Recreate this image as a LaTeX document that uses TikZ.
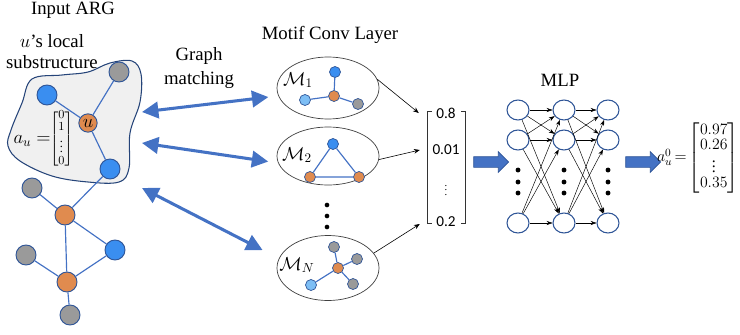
\RequirePackage{fix-cm}
\documentclass[tikz,border=0pt]{standalone}
\usepackage{amsmath}
\usepackage{fontspec}
\setmainfont{Liberation Serif}
\newfontfamily\numfont{Carlito}
\usetikzlibrary{arrows.meta,shapes.arrows,shapes.geometric,calc}

\definecolor{nodeblue}{HTML}{3A8EF0}
\definecolor{lightblue}{HTML}{7DBEF5}
\definecolor{nodeorange}{HTML}{E08B4F}
\definecolor{nodegray}{HTML}{9A9A9A}
\definecolor{edgeblue}{HTML}{4472C4}
\definecolor{rimblue}{HTML}{2F5597}
\definecolor{blobgray}{HTML}{F0F0F0}

\begin{document}
\begin{tikzpicture}[
	x = 0.03cm, y = -0.03cm,  % one unit = one pixel of the sketch
	font = \fontsize{16}{18}\selectfont,
	vertex/.style = {circle, draw = rimblue, line width = 0.8pt, minimum size = 0.6cm, inner sep = 0},
	bnode/.style = {vertex, fill = nodeblue},
	lbnode/.style = {vertex, fill = lightblue},
	onode/.style = {vertex, fill = nodeorange},
	gnode/.style = {vertex, fill = nodegray},
	small/.style = {minimum size = 0.33cm, line width = 0.6pt},
	link/.style = {edgeblue, line width = 1pt},
	motif/.style = {ellipse, draw = black!75, line width = 0.6pt, minimum width = 3.06cm, inner sep = 0},
	match/.style = {{Triangle[length=14pt,width=14pt]}-{Triangle[length=14pt,width=14pt]}, edgeblue, line width = 2.6pt},
	feed/.style = {-{Stealth[length=5pt,width=4pt]}, black, line width = 0.5pt},
	neuron/.style = {ellipse, draw = rimblue, line width = 0.9pt, fill = white, minimum width = 0.66cm, minimum height = 0.6cm, inner sep = 0},
	wire/.style = {-{Stealth[length=5pt,width=3.5pt]}, black, line width = 0.4pt},
	bigarrow/.style = {single arrow, draw = rimblue, fill = edgeblue, line width = 0.6pt, minimum height = 1.05cm, text height = 0.3cm, text depth = 0pt, single arrow head extend = 0.15cm, single arrow head indent = 0, inner sep = 0},
	bracket/.style = {black!80, line width = 0.8pt}
	]
	
	\useasboundingbox (0,0) rectangle (740,334);
	
	% input graph
	\node (title1) at (73,10) {Input ARG};
	\node[align = center] (sublabel) at (52,52) {$u$'s local\\substructure};
	
	\draw[rimblue!80!black, line width = 0.9pt, fill = blobgray] plot[smooth cycle, tension = 0.6] coordinates
		{(32,79) (62,75) (88,72) (110,63) (132,61) (141,74) (140,102) (130,133) (129,168) (119,182) (88,182) (52,176) (20,161) (8,146) (11,130) (22,103)};
	
	\node[bnode] (a1) at (47,95) {};
	\node[gnode] (a2) at (119,72) {};
	\node[onode, minimum size = 0.55cm] (u) at (88,123) {$u$};
	\node[bnode] (a3) at (110,169) {};
	\node[gnode] (a4) at (32,188) {};
	\node[onode] (a5) at (65,215) {};
	\node[bnode] (a6) at (115,250) {};
	\node[gnode] (a7) at (26,255) {};
	\node[onode] (a8) at (67,282) {};
	\node[gnode] (a9) at (70,315) {};
	
	\foreach \s/\t in {a1/u, a2/u, u/a3, a3/a5, a4/a5, a5/a6, a5/a8, a6/a8, a7/a8, a8/a9}
		\draw[link] (\s) -- (\t);
	
	\node[anchor = east, inner sep = 0] (alabel) at (51,141) {$a_u=$};
	\node[inner sep = 0, font = \fontsize{10.5}{10.5}\selectfont] (amat) at (61.5,139)
		{$\arraycolsep=1pt\begin{bmatrix}0\\1\\\vdots\\0\end{bmatrix}$};
	
	\node[align = center] (gm) at (199,68) {Graph\\[2pt]matching};
	
	% motif conv layer
	\node (title2) at (330,35) {Motif Conv Layer};
	\node[motif, minimum height = 1.86cm] (m1) at (328,88) {};
	\node[motif, minimum height = 1.74cm] (m2) at (328,156) {};
	\node[motif, minimum height = 1.95cm] (mN) at (328,268) {};
	
	\node (l1) at (298,80) {$\mathcal{M}_1$};
	\node (l2) at (297,155) {$\mathcal{M}_2$};
	\node (lN) at (297,265) {$\mathcal{M}_N$};
	
	\node[onode, small] (p0) at (334,96) {};
	\node[bnode, small] (p1) at (335,72) {};
	\node[lbnode, small] (p2) at (305,100) {};
	\node[gnode, small] (p3) at (358,104) {};
	\foreach \t in {p1, p2, p3}
		\draw[link] (p0) -- (\t);
	
	\node[bnode, small] (q1) at (333,144) {};
	\node[onode, small] (q2) at (310,177) {};
	\node[onode, small] (q3) at (359,177) {};
	\draw[link] (q1) -- (q2) -- (q3) -- (q1);
	
	\node[onode, small] (r0) at (338,268) {};
	\node[gnode, small] (r1) at (334,247) {};
	\node[gnode, small] (r2) at (357,259) {};
	\node[gnode, small] (r3) at (353,284) {};
	\node[lbnode, small] (r4) at (311,285) {};
	\foreach \t in {r1, r2, r3, r4}
		\draw[link] (r0) -- (\t);
	
	\foreach \y in {205,216,227}
		\fill (327,\y) circle (2pt);
	
	\coordinate (g1) at (142,112);
	\coordinate (g2) at (142,143);
	\coordinate (g3) at (142,188);
	\draw[match, shorten > = 0.3cm] (g1) -- (m1.189);
	\draw[match, shorten > = 0.3cm] (g2) -- (m2.188);
	\draw[match, shorten > = 0.55cm] (g3) -- (mN.169);
	
	% pooled vector
	\node[minimum width = 1.11cm, minimum height = 3.33cm, inner sep = 0] (vec) at (446.5,167.5) {};
	\node[font = \numfont\fontsize{13}{13}\selectfont] (v1) at (446,113) {0.8};
	\node[font = \numfont\fontsize{13}{13}\selectfont] (v2) at (446,150) {0.01};
	\node[font = \fontsize{9}{9}\selectfont] (v3) at (446,187) {$\vdots$};
	\node[font = \numfont\fontsize{13}{13}\selectfont] (v4) at (446,222) {0.2};
	\draw[bracket] ($(vec.north west)+(4,0)$) -- (vec.north west) -- (vec.south west) -- ++(4,0);
	\draw[bracket] ($(vec.north east)+(-4,0)$) -- (vec.north east) -- (vec.south east) -- ++(-4,0);
	
	\draw[feed] (m1.10) -- ($(vec.west |- v1)+(-9,0)$);
	\draw[feed] (m2.-4) -- ($(vec.west |- v2)+(-8,0)$);
	\draw[feed] (mN.18) -- ($(vec.west |- v4)+(-8,2)$);
	
	\node[bigarrow] (ba1) at (488.5,162) {};
	
	% MLP
	\node (title3) at (560,80) {MLP};
	\foreach \c/\x in {1/518, 2/564, 3/608}
		\foreach \r/\y in {1/110, 2/140, 3/223}
			\node[neuron] (n\c\r) at (\x,\y) {};
	\foreach \a/\b in {1/2, 2/3}
		\foreach \i in {1,2,3}
			\foreach \j in {1,2,3}
				\draw[wire] (n\a\i) -- (n\b\j);
	\foreach \x in {518,564,608}
		\foreach \y in {170,182,193}
			\fill (\x,\y) circle (2.1pt);
	
	\node[bigarrow] (ba2) at (640.5,162) {};
	
	\node[anchor = east, font = \fontsize{13.5}{13}\selectfont, inner sep = 0] (out) at (739,158)
		{$\thickmuskip=2.5mu a_u^0=\arraycolsep=0.8pt\begin{bmatrix}0.97\\0.26\\\vdots\\0.35\end{bmatrix}$};
	
\end{tikzpicture}
\end{document}
